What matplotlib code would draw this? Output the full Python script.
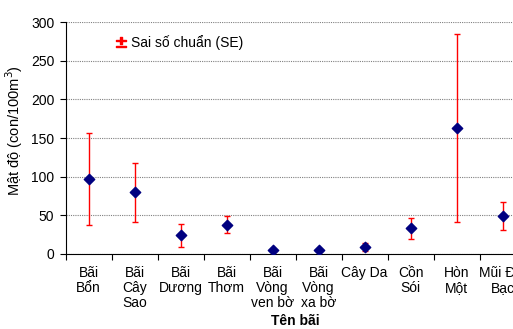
import numpy as np
import matplotlib
matplotlib.use("Agg")
import matplotlib.pyplot as plt
from matplotlib.lines import Line2D

# Data
sites = ["Bãi\nBổn", "Bãi\nCây\nSao", "Bãi\nDương", "Bãi\nThơm", "Bãi\nVòng\nven bờ",
         "Bãi\nVòng\nxa bờ", "Cây Da", "Cồn\nSói", "Hòn\nMột", "Mũi Đất\nBạc"]
density = [97, 80, 24, 38, 5, 5, 9.5, 33, 163, 49]
se = [60, 38, 15, 11, 0, 0, 5, 13, 122, 18.5]
yticks = [0, 50, 100, 150, 200, 250, 300]

plt.rcParams["font.family"] = ["Liberation Sans", "DejaVu Sans"]

fig = plt.figure(figsize=(5.13, 3.29), dpi=100)
ax = fig.add_axes([0.1277, 0.228, 0.8967, 0.705])

x = np.arange(len(sites))
ax.errorbar(x, density, yerr=se, fmt="none", ecolor="#ff0000",
            elinewidth=1.0, capsize=2.5, capthick=1.0, zorder=3)
ax.scatter(x, density, marker="D", s=28, color="#000080", zorder=4)

ax.set_xlim(-0.5, len(sites) - 0.5)
ax.set_ylim(0, 300)
ax.set_yticks(yticks)
ax.set_xticks(x)
ax.set_xticklabels(sites, fontsize=10, linespacing=1.05)
ax.set_xticks(np.arange(-0.5, len(sites), 1.0), minor=True)
ax.tick_params(axis="x", which="major", length=0, pad=9)
ax.tick_params(axis="x", which="minor", length=4, direction="out", width=0.8)
ax.tick_params(axis="y", length=4, width=0.8, labelsize=10, pad=4)

ax.grid(axis="y", linestyle=(0, (1, 1)), color="#808080", linewidth=0.8)
ax.set_axisbelow(True)
for side in ("top", "right"):
    ax.spines[side].set_visible(False)
for side in ("left", "bottom"):
    ax.spines[side].set_linewidth(0.8)

ax.set_ylabel("Mật độ (con/100m$^3$)", fontsize=10.5)
ax.yaxis.set_label_coords(-0.088, 0.534)
ax.set_xlabel("Tên bãi", fontsize=10, fontweight="bold", labelpad=3)

handle = Line2D([], [], linestyle="none", marker="$\\pm$", color="#ff0000",
                markersize=7)
ax.legend([handle], ["Sai số chuẩn (SE)"], loc="upper left",
          bbox_to_anchor=(0.085, 1.0), frameon=False, fontsize=10,
          handlelength=0.6, handletextpad=0.4)

fig.savefig("out.png", dpi=100)
